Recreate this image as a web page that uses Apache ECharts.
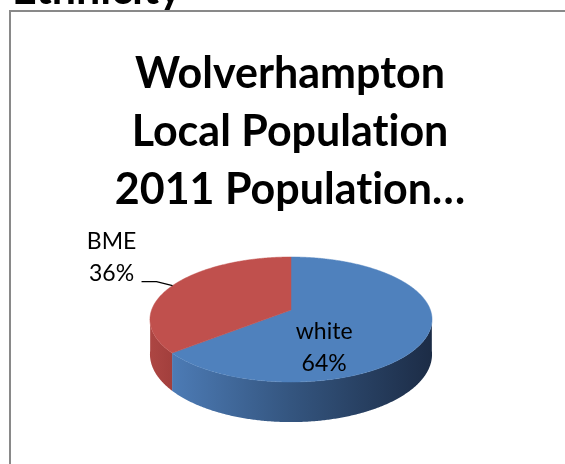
<!DOCTYPE html>
<html><head><meta charset="utf-8">
<script src="https://cdn.jsdelivr.net/npm/echarts@6/dist/echarts.min.js"></script>
<style>html,body{margin:0;padding:0;background:#fff;overflow:hidden}#c{width:565px;height:464px}</style>
</head><body><div id="c"></div>
<script>
// ---- data ----
const categories = ['white', 'BME'];
const values = [64, 36];
const titleLines = ['Wolverhampton', 'Local Population', '2011 Population…'];
const headerText = 'Ethnicity';

// ---- disable font ligatures on canvas text (style only) ----
(function () {
  const proto = CanvasRenderingContext2D.prototype;
  const orig = proto.fillText;
  proto.fillText = function () {
    try { if ('textRendering' in this) this.textRendering = 'optimizeSpeed'; } catch (e) {}
    return orig.apply(this, arguments);
  };
})();

// ---- layout / style ----
const topColors = ['#4f81bd', '#c0504d'];
const sideStops = [
  [{offset: 0, color: '#5182bf'}, {offset: 0.5, color: '#34557f'}, {offset: 1, color: '#1c2c46'}],
  [{offset: 0, color: '#ad4643'}, {offset: 0.1, color: '#9f3d3b'}, {offset: 1, color: '#5a1f1e'}]
];
const P = {cx: 291, cy: 310, A: 139.4, B: 61.06, k: 0.152, h: 34};
const FONT = 'Lato, "Open Sans", sans-serif';

const total = values.reduce((a, b) => a + b, 0);
const starts = [];
let acc = 0;
values.forEach(v => { starts.push(acc); acc += v; });

function proj(theta, r, drop) {
  const u = r * Math.sin(theta), v = -r * Math.cos(theta);
  const D = 1 - P.k * v;
  return [P.cx + P.A * u / D, P.cy + P.B * v / D + (drop ? P.h / D : 0)];
}

function renderItem(params, api) {
  const i = params.dataIndex;
  const val = api.value(0);
  const t0 = starts[i] / total * Math.PI * 2;
  const t1 = (starts[i] + val) / total * Math.PI * 2;
  const children = [];
  const step = Math.PI / 360;

  // side wall (front part only)
  const vMin = 0.1;
  const fa = Math.acos(-vMin), fb = 2 * Math.PI - fa;
  const s0 = Math.max(t0, fa), s1 = Math.min(t1, fb);
  if (s1 > s0) {
    const topPts = [], botPts = [];
    for (let t = s0; t < s1; t += step) { topPts.push(proj(t, 1, false)); botPts.push(proj(t, 1, true)); }
    topPts.push(proj(s1, 1, false)); botPts.push(proj(s1, 1, true));
    children.push({
      type: 'polygon', z2: 1,
      shape: {points: topPts.concat(botPts.reverse())},
      style: {fill: {type: 'linear', x: 150, y: 0, x2: 432, y2: 0, global: true, colorStops: sideStops[i]}, stroke: null}
    });
  }
  // top face
  const pts = [proj(0, 0, false)];
  for (let t = t0; t < t1; t += step) pts.push(proj(t, 1, false));
  pts.push(proj(t1, 1, false));
  children.push({type: 'polygon', z2: 2, shape: {points: pts}, style: {fill: topColors[i], stroke: topColors[i], lineWidth: 0.5}});

  // label
  const pct = Math.round(val / total * 100) + '%';
  const mid = (t0 + t1) / 2;
  const share = val / total;
  if (share >= 0.5) {
    const a = proj(mid, 0.35, false);
    children.push({type: 'text', z2: 3, x: a[0] - 12, y: a[1] + 28,
      style: {text: categories[i] + '\n' + pct, align: 'center', verticalAlign: 'middle', font: '23px ' + FONT, fill: '#000', lineHeight: 32}});
  } else {
    const p1 = proj(mid, 1, false);
    const p2 = [p1[0] - 16, p1[1] - 4];
    const p3 = [p2[0] - 15, p2[1]];
    children.push({type: 'polyline', z2: 3, shape: {points: [p1, p2, p3]}, style: {stroke: '#000', lineWidth: 1.3, fill: null}});
    children.push({type: 'text', z2: 3, x: p3[0] - 30, y: p3[1] - 24,
      style: {text: categories[i] + '\n' + pct, align: 'center', verticalAlign: 'middle', font: '23px ' + FONT, fill: '#000', lineHeight: 32}});
  }
  return {type: 'group', children};
}

const chart = echarts.init(document.getElementById('c'), null, {renderer: 'canvas'});
chart.setOption({
  backgroundColor: '#ffffff',
  animation: false,
  graphic: [
    {type: 'text', x: 12, y: -10, style: {text: headerText, font: 'bold 43px ' + FONT, fill: '#000', align: 'left', verticalAlign: 'middle'}},
    {type: 'rect', shape: {x: 10, y: 11, width: 620, height: 520}, style: {fill: null, stroke: '#898989', lineWidth: 2}},
    {type: 'text', x: 290, y: 45, style: {text: titleLines.join('\n'), font: 'bold 43px ' + FONT, fill: '#000', align: 'center', verticalAlign: 'top', lineHeight: 58}}
  ],
  series: [{
    type: 'custom',
    coordinateSystem: 'none',
    silent: true,
    renderItem: renderItem,
    data: values.map((v, i) => ({name: categories[i], value: [v]}))
  }]
});
</script>
</body></html>
